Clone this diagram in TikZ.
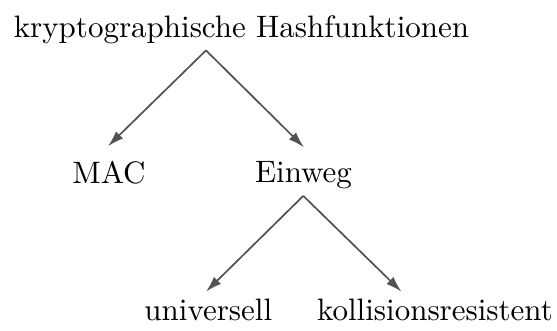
\documentclass[tikz,border=0pt]{standalone}
\usetikzlibrary{arrows.meta,calc}

\begin{document}
\begin{tikzpicture}[
    x=1pt, y=-1pt,
    lbl/.style={scale=3.1, transform shape, anchor=base, inner sep=0pt, outer sep=0pt},
    branch/.style={draw=black!68, line width=1.7pt,
      -{Latex[length=16pt,width=10pt,fill=black!68]}}
  ]
  \useasboundingbox (0,0) rectangle (557,331);

  % tree labels (placed by their baselines)
  \node[lbl] (root)  at (241.5,37.3) {kryptographische Hashfunktionen};
  \node[lbl] (mac)   at (109,183.3)  {MAC};
  \node[lbl] (einweg) at (303.5,182.7) {Einweg};
  \node[lbl] (univ)  at (208.3,320)  {universell};
  \node[lbl] (koll)  at (435,320)    {kollisionsresistent};

  % branching points below the parents
  \coordinate (rootfork) at ($(root.south)+(-35.5,6.7)$);
  \coordinate (einwegfork) at ($(einweg.south)+(-0.2,6.8)$);

  % edges of the tree
  \draw[branch] (rootfork) -- ($(mac.north)+(-1,-14.9)$);
  \draw[branch] (rootfork) -- ($(einweg.north)+(0.5,-14.3)$);
  \draw[branch] (einwegfork) -- ($(univ.north)+(-2.3,-6.8)$);
  \draw[branch] (einwegfork) -- ($(koll.north)+(-33.5,-6.8)$);
\end{tikzpicture}
\end{document}
